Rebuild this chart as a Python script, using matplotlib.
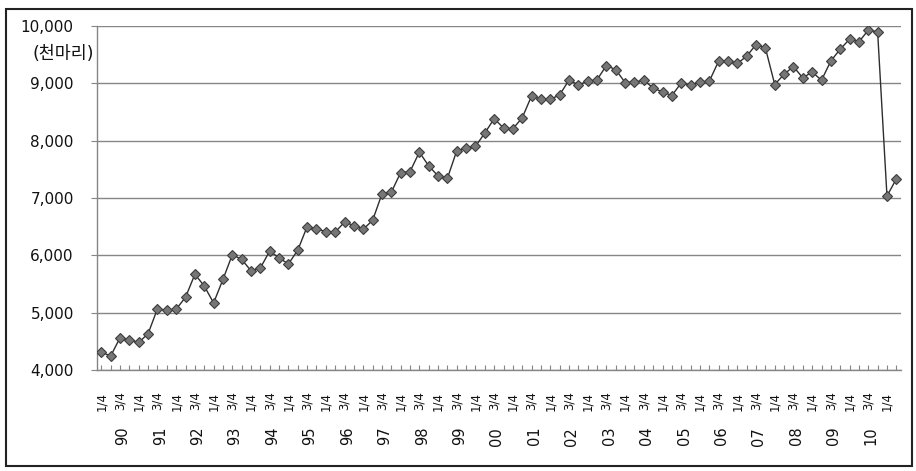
import matplotlib.pyplot as plt
from matplotlib.patches import Rectangle
from matplotlib.ticker import FuncFormatter

# quarterly series, 1990 Q1 .. 2011 Q2 (천마리)
years = list(range(1990, 2012))
quarters = [1, 2, 3, 4]
values = [4310, 4245, 4565, 4530, 4480, 4635, 5070, 5040, 5060, 5270,
          5670, 5465, 5170, 5580, 6010, 5930, 5730, 5780, 6075, 5955,
          5850, 6090, 6500, 6460, 6415, 6405, 6580, 6520, 6455, 6610,
          7070, 7100, 7443, 7460, 7800, 7560, 7385, 7345, 7825, 7870,
          7900, 8134, 8383, 8222, 8207, 8400, 8780, 8720, 8720, 8800,
          9055, 8975, 9035, 9063, 9310, 9238, 9014, 9022, 9054, 8919,
          8850, 8787, 9007, 8967, 9019, 9037, 9386, 9391, 9346, 9473,
          9677, 9618, 8979, 9159, 9293, 9094, 9199, 9054, 9391, 9595,
          9770, 9723, 9927, 9898, 7035, 7332]
y_ticks = [4000, 5000, 6000, 7000, 8000, 9000, 10000]
unit_label = "(천마리)"

# category labels (year, quarter) for every point
cats = [(y, q) for y in years for q in quarters][:len(values)]
xs = list(range(1, len(values) + 1))

plt.rcParams['font.family'] = ['DejaVu Sans', 'Noto Sans CJK KR']
grid_col = '#868686'

fig = plt.figure(figsize=(9.16, 4.71), dpi=100)
ax = fig.add_axes([96.7 / 916, 1 - 370 / 471, 804.3 / 916, 344 / 471])

ax.plot(xs, values, color='#2e2e2e', lw=1.0, marker='D', ms=5.5,
        mfc='#767676', mec='#3c3c3c', mew=0.8, zorder=3)

ax.set_xlim(0.5, len(values) + 0.5)
ax.set_ylim(y_ticks[0], y_ticks[-1])
ax.set_yticks(y_ticks)
ax.yaxis.set_major_formatter(FuncFormatter(lambda v, p: f"{int(v):,}"))
ax.grid(axis='y', color=grid_col, lw=1.0)
ax.set_axisbelow(True)

for s in ['top', 'right']:
    ax.spines[s].set_visible(False)
for s in ['left', 'bottom']:
    ax.spines[s].set_color(grid_col)
    ax.spines[s].set_linewidth(1.0)

ax.tick_params(axis='y', direction='out', length=4.5, color=grid_col,
               labelsize=11, pad=12, labelcolor='#111111')

# quarter labels on every other point
qlabels = [f"{q}/4" if i % 2 == 0 else "" for i, (y, q) in enumerate(cats)]
ax.set_xticks(xs)
ax.set_xticklabels(qlabels, rotation=90, fontsize=8.5, color='#111111')
ax.tick_params(axis='x', direction='in', length=3.5, color=grid_col, pad=15.5)

# year labels under the 3/4 label of each year
for x, (y, q) in zip(xs, cats):
    if q == 3:
        ax.text(x + 0.3, -0.165, f"{y % 100:02d}", transform=ax.get_xaxis_transform(),
                rotation=90, ha='center', va='top', fontsize=10.5, color='#111111')

fig.text(94 / 916, 1 - 54 / 471, unit_label, ha='right', va='center',
         fontsize=12.5, color='#111111')

fig.patches.append(Rectangle((6 / 916, 5 / 471), 906 / 916, 457 / 471,
                             transform=fig.transFigure, fill=False,
                             ec='#222222', lw=1.5))

fig.savefig('out.png', dpi=100)
